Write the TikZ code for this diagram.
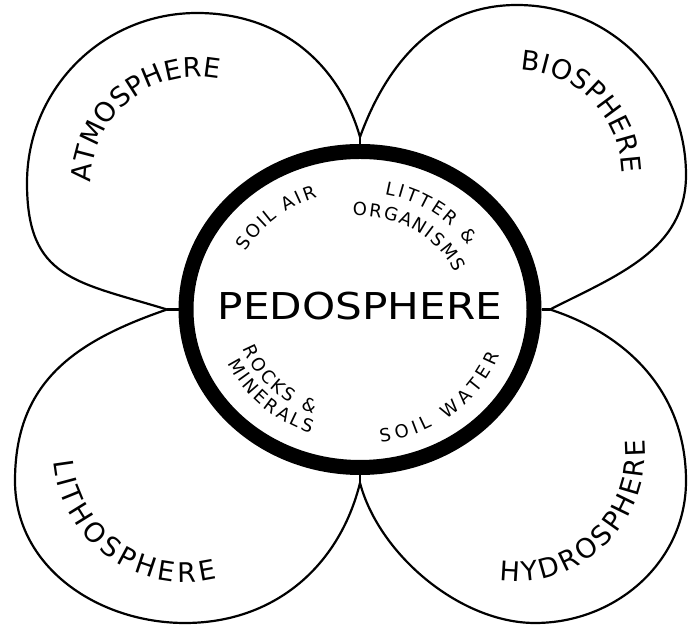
\documentclass[tikz,border=0pt]{standalone}
\usepackage{fontspec}
\newfontfamily\letterfont{DejaVu Sans}
\usetikzlibrary{shapes.geometric,decorations.text,positioning}
\newcommand\bigletters{\letterfont\fontsize{27}{27}\selectfont}
\newcommand\smallletters{\letterfont\fontsize{18}{18}\selectfont}
\newcommand\pedletters{\letterfont\fontsize{37}{37}\selectfont}

\begin{document}
\begin{tikzpicture}[x=1pt, y=1pt,
  lobe/.style={line width=2.2pt},
  ring/.style={draw, ellipse, line width=15pt, minimum width=348pt, minimum height=316pt, inner sep=0pt},
  outerlabel/.style={decorate, decoration={text along path, text align=fit to path, text={|\bigletters|#1}}},
  innerlabel/.style={decorate, decoration={text along path, text align=fit to path, text={|\smallletters|#1}}}]
  \useasboundingbox (0,0) rectangle (688,636);

  \node[ring] (ped) at (360,326.5) {};
  \node[font=\pedletters] (pedname) at ([yshift=3pt]ped.center) {\scalebox{1.14}[1]{PEDOSPHERE}};

  \coordinate[left=11.5pt of ped.west] (cl);
  \coordinate[above=7pt of ped.north] (ct);
  \coordinate[right=8.5pt of ped.east] (cr);
  \coordinate[below=8pt of ped.south] (cb);

  \coordinate (atmo) at (197,453);
  \coordinate (bio) at (517,461);
  \coordinate (litho) at (185,186);
  \coordinate (hydro) at (517,183);

  \draw[lobe] (ct) to[out=106,in=0] (197,623) to[out=180,in=90] (27,453) to[out=-90,in=163,looseness=1.3] (cl);
  \draw[lobe] (ct) to[out=70,in=180] (517,631) to[out=0,in=90] (686,461) to[out=-90,in=27] (cr);
  \draw[lobe] (cl) to[out=199,in=90,looseness=1.1] (15,155) to[out=-90,in=180] (185,13) to[out=0,in=256] (cb);
  \draw[lobe] (cb) to[out=-75,in=180,looseness=0.85] (535,13) to[out=0,in=-90] (686,155) to[out=90,in=-18] (cr);

  \draw[lobe] (cl) -- (ped.west);
  \draw[lobe] (ct) -- (ped.north);
  \draw[lobe] (cr) -- (ped.east);
  \draw[lobe] (cb) -- (ped.south);

  \path[outerlabel={ATMOSPHERE}] ([shift={(180:106pt)}]atmo) arc[start angle=180, end angle=78, radius=106pt];
  \path[outerlabel={BIOSPHERE}] ([shift={(88:105pt)}]bio) arc[start angle=88, end angle=1, radius=105pt];
  \path[outerlabel={LITHOSPHERE}] ([shift={(185:132pt)}]litho) arc[start angle=185, end angle=284, radius=132pt];
  \path[outerlabel={HYDROSPHERE}] ([shift={(262:128pt)}]hydro) arc[start angle=262, end angle=366, radius=128pt];

  \path[innerlabel={SOIL AIR}] ([shift={(151:131pt and 119pt)}]ped.center) arc[start angle=151, end angle=109, x radius=131pt, y radius=119pt];
  \path[innerlabel={LITTER {\&}}] ([shift={(79:129pt and 117.5pt)}]ped.center) arc[start angle=79, end angle=33, x radius=129pt, y radius=117.5pt];
  \path[innerlabel={ORGANISMS}] ([shift={(94:103pt and 93.5pt)}]ped.center) arc[start angle=94, end angle=23, x radius=103pt, y radius=93.5pt];
  \path[innerlabel={ROCKS {\&}}] ([shift={(200:124.5pt and 113pt)}]ped.center) arc[start angle=200, end angle=248, x radius=124.5pt, y radius=113pt];
  \path[innerlabel={MINERALS}] ([shift={(204:144.5pt and 131.5pt)}]ped.center) arc[start angle=204, end angle=250, x radius=144.5pt, y radius=131.5pt];
  \path[innerlabel={SOIL WATER}] ([shift={(278:148pt and 134.5pt)}]ped.center) arc[start angle=278, end angle=340, x radius=148pt, y radius=134.5pt];
\end{tikzpicture}
\end{document}
